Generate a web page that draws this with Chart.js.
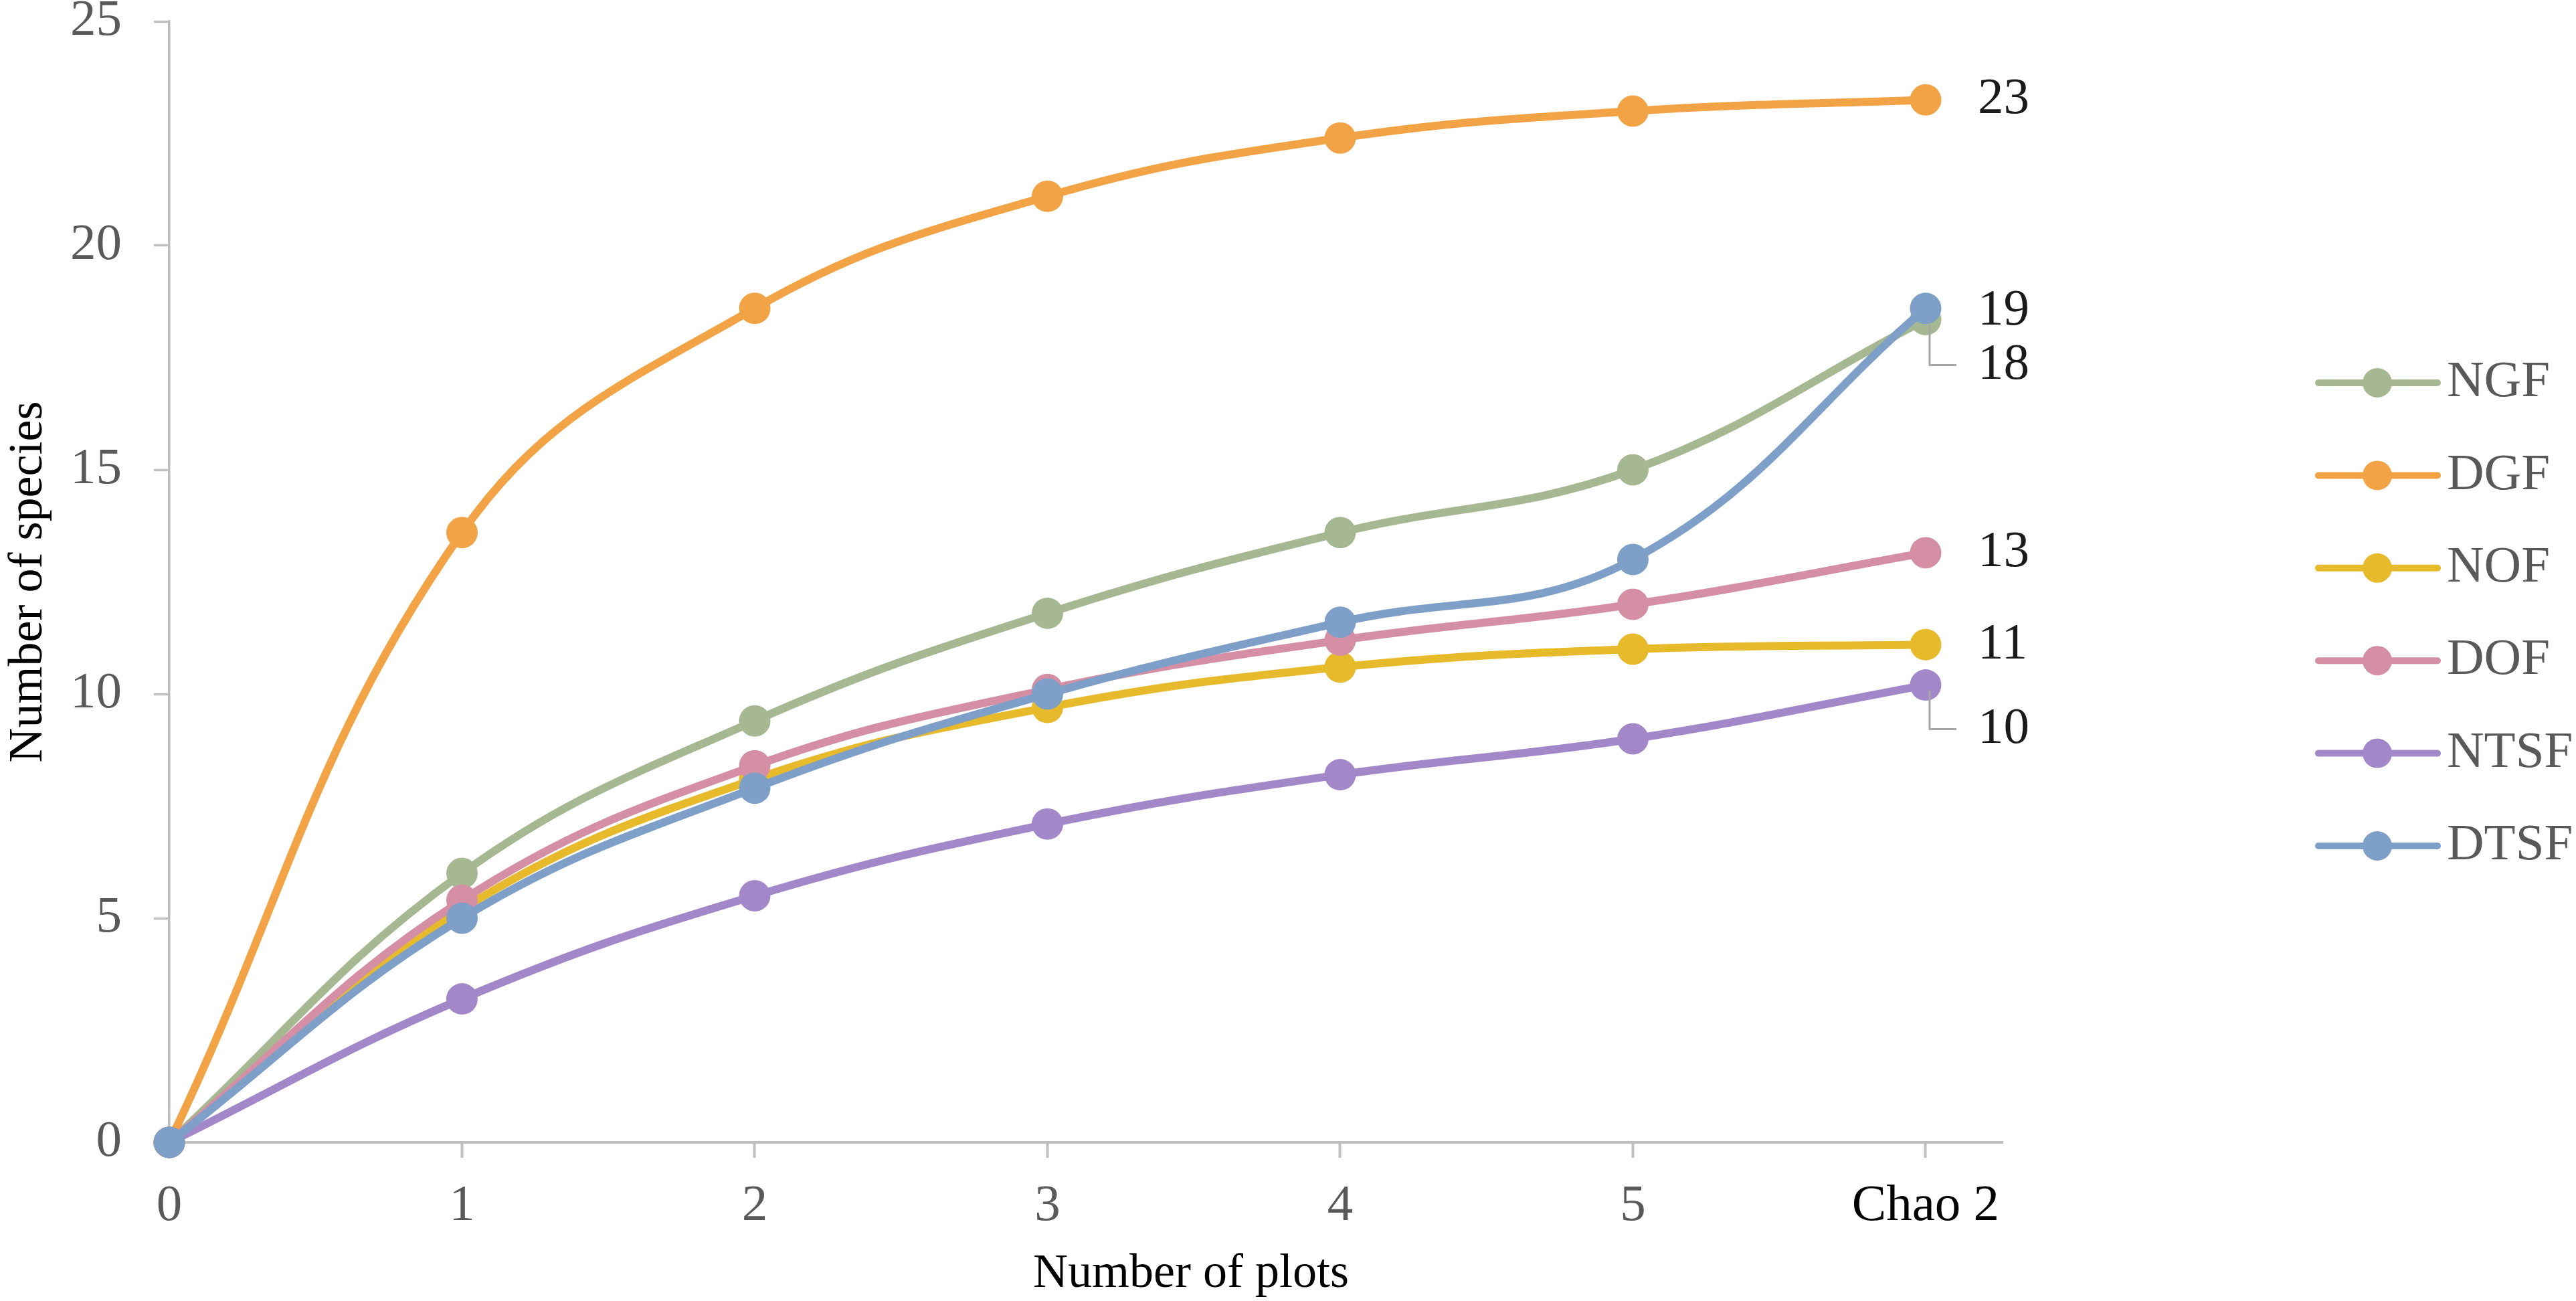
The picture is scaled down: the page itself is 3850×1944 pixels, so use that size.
<!DOCTYPE html>
<html>
<head>
<meta charset="utf-8">
<script src="https://cdn.jsdelivr.net/npm/chart.js@4.4.0/dist/chart.umd.min.js"></script>
<style>
  html, body { margin: 0; padding: 0; background: #fff; }
  #wrap { width: 3850px; height: 1944px; }
</style>
</head>
<body>
<div id="wrap"><canvas id="speciesChart" width="3850" height="1944"></canvas></div>
<script>
// x positions (plots) and their tick labels
const plotSteps = [0, 1, 2, 3, 4, 5, 6];
const plotLabels = ['0', '1', '2', '3', '4', '5', 'Chao 2'];

// species accumulation per forest type
const seriesNames = ['NGF', 'DGF', 'NOF', 'DOF', 'NTSF', 'DTSF'];
const ngf  = [0, 6.0, 9.4, 11.8, 13.6, 15.0, 18.35];
const dgf  = [0, 13.6, 18.6, 21.1, 22.4, 23.0, 23.25];
const nof  = [0, 5.2, 8.1, 9.7, 10.6, 11.0, 11.1];
const dof  = [0, 5.4, 8.4, 10.1, 11.2, 12.0, 13.15];
const ntsf = [0, 3.2, 5.5, 7.1, 8.2, 9.0, 10.2];
const dtsf = [0, 5.0, 7.9, 10.0, 11.6, 13.0, 18.6];

const colors = ['#A5B891', '#F2A345', '#E7BA2C', '#D58FA5', '#A388C9', '#7D9FC8'];
const serif = '"Liberation Serif", "Times New Roman", serif';

// end label placement (px below the last point) and which ones get a leader line
const labelShift = [68, 0, 0, 0, 66, 4];
const hasLeader = [true, false, false, false, true, false];

const allSeries = [ngf, dgf, nof, dof, ntsf, dtsf];

const datasets = allSeries.map((vals, i) => ({
  label: seriesNames[i],
  data: vals.map((v, k) => ({ x: plotSteps[k], y: v })),
  borderColor: colors[i],
  backgroundColor: colors[i],
  pointBackgroundColor: colors[i],
  borderWidth: 12,
  pointRadius: 23.5,
  pointHoverRadius: 23.5,
  pointBorderWidth: 0,
  tension: 0.4,
  clip: false,
  order: allSeries.length - i
}));

const endLabels = {
  id: 'endLabels',
  afterDatasetsDraw(chart) {
    const ctx = chart.ctx;
    ctx.save();
    ctx.font = '77px ' + serif;
    ctx.textBaseline = 'middle';
    ctx.textAlign = 'left';
    chart.data.datasets.forEach((ds, i) => {
      const last = ds.data.length - 1;
      const pt = chart.getDatasetMeta(i).data[last];
      const ly = pt.y + labelShift[i];
      if (hasLeader[i]) {
        ctx.strokeStyle = '#a6a6a6';
        ctx.lineWidth = 3;
        ctx.beginPath();
        ctx.moveTo(pt.x + 6, pt.y + 8);
        ctx.lineTo(pt.x + 6, ly);
        ctx.lineTo(pt.x + 46, ly);
        ctx.stroke();
      }
      ctx.fillStyle = '#1a1a1a';
      ctx.fillText(String(Math.round(ds.data[last].y)), pt.x + 78, ly);
    });
    ctx.restore();
  }
};

// legend on the right: line + marker + name
const sideLegend = {
  id: 'sideLegend',
  afterDraw(chart) {
    const ctx = chart.ctx;
    const area = chart.chartArea;
    const lineStart = area.right + 472;
    ctx.save();
    ctx.font = '77px ' + serif;
    ctx.textBaseline = 'middle';
    ctx.textAlign = 'left';
    chart.data.datasets.forEach((ds, i) => {
      const y = area.top + 540 + i * 138.4;
      ctx.strokeStyle = colors[i];
      ctx.lineWidth = 10;
      ctx.lineCap = 'round';
      ctx.beginPath();
      ctx.moveTo(lineStart, y);
      ctx.lineTo(lineStart + 178, y);
      ctx.stroke();
      ctx.fillStyle = colors[i];
      ctx.beginPath();
      ctx.arc(lineStart + 88, y, 22, 0, Math.PI * 2);
      ctx.fill();
      ctx.fillStyle = '#595959';
      ctx.fillText(ds.label, lineStart + 192, y);
    });
    ctx.restore();
  }
};

// x axis title sits a little right of the axis centre
const xTitle = {
  id: 'xTitle',
  afterDraw(chart) {
    const ctx = chart.ctx;
    ctx.save();
    ctx.font = '72px ' + serif;
    ctx.fillStyle = '#000';
    ctx.textAlign = 'center';
    ctx.textBaseline = 'alphabetic';
    ctx.fillText('Number of plots', chart.chartArea.left + 1527, chart.height - 21);
    ctx.restore();
  }
};

const chart = new Chart(document.getElementById('speciesChart').getContext('2d'), {
  type: 'line',
  data: { datasets },
  options: {
    responsive: false,
    animation: false,
    devicePixelRatio: 1,
    events: [],
    layout: { padding: { top: 32, right: 857, bottom: 0, left: 0 } },
    plugins: {
      legend: { display: false },
      tooltip: { enabled: false }
    },
    scales: {
      x: {
        type: 'linear',
        min: 0,
        max: 6.263,
        afterFit: s => {
          s.height = 237;
          s.paddingLeft = 0;
          s.paddingRight = 0;
        },
        border: { display: true, color: '#bfbfbf', width: 4 },
        grid: { drawOnChartArea: false, drawTicks: true, tickLength: 23, tickColor: '#bfbfbf', tickWidth: 4 },
        ticks: {
          stepSize: 1,
          includeBounds: false,
          padding: 27,
          maxRotation: 0,
          autoSkip: false,
          font: { family: serif, size: 77 },
          color: c => (c.tick && c.tick.value === 6 ? '#000' : '#595959'),
          callback: v => (plotLabels[v] !== undefined ? plotLabels[v] : '')
        }
      },
      y: {
        min: 0,
        max: 25,
        afterFit: s => {
          s.width = 253;
          s.paddingTop = 0;
          s.paddingBottom = 0;
        },
        border: { display: true, color: '#bfbfbf', width: 3.5 },
        grid: { drawOnChartArea: false, drawTicks: true, tickLength: 23, tickColor: '#bfbfbf', tickWidth: 3.5 },
        ticks: {
          stepSize: 5,
          padding: 48,
          font: { family: serif, size: 77 },
          color: '#595959'
        },
        title: {
          display: true,
          text: 'Number of species',
          color: '#000',
          font: { family: serif, size: 72 },
          padding: 0
        }
      }
    }
  },
  plugins: [endLabels, sideLegend, xTitle]
});
</script>
</body>
</html>
